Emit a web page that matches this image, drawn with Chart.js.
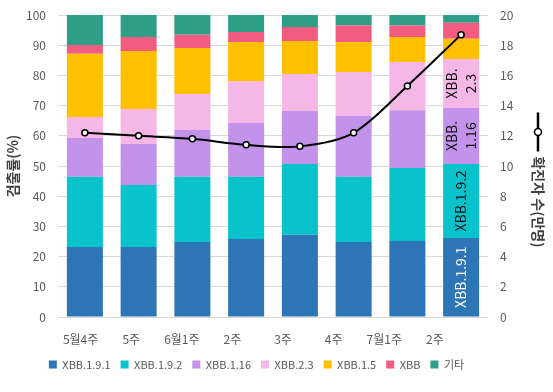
<!DOCTYPE html>
<html><head><meta charset="utf-8">
<script src="https://cdn.jsdelivr.net/npm/chart.js@4"></script>
<style>html,body{margin:0;padding:0;background:#fff}</style>
</head><body>
<canvas id="c" width="553" height="392" style="width:553px;height:392px"></canvas>
<script>
const categories = ['5월4주','5주','6월1주','2주','3주','4주','7월1주','2주'];
const seriesNames = ['XBB.1.9.1','XBB.1.9.2','XBB.1.16','XBB.2.3','XBB.1.5','XBB','기타'];
const xbb1_9_1 = [23.2,23.2,24.8,25.8,27.2,24.8,25.2,26.2];
const xbb1_9_2 = [23.2,20.5,21.6,20.6,23.5,21.6,24.1,24.5];
const xbb1_16  = [12.9,13.6,15.5,17.8,17.5,20.2,19.2,18.5];
const xbb2_3   = [6.9,11.6,11.9,13.9,12.3,14.5,15.9,16.2];
const xbb1_5   = [21.0,19.2,15.3,13.0,10.9,10.0,8.3,6.7];
const xbb      = [2.9,4.6,4.4,3.3,4.6,5.4,3.8,5.3];
const others   = [9.9,7.3,6.5,5.6,4.0,3.5,3.5,2.6];
const confirmed = [12.2,12.0,11.8,11.4,11.3,12.2,15.3,18.7];
const lineName = '확진자 수(만명)';
const leftTitle = '검출률(%)';
const lastBarLabels = [['XBB.1.9.1'],['XBB.1.9.2'],['XBB.','1.16'],['XBB.','2.3']];
const lastBarLabelColors = ['#ffffff','#111111','#111111','#111111'];

const colors = ['#2E75B6','#08C3CC','#C393EC','#F4B7E6','#FFC000','#F25C80','#2E9E86'];
const seriesData = [xbb1_9_1,xbb1_9_2,xbb1_16,xbb2_3,xbb1_5,xbb,others];
const FONT = '"Noto Sans CJK KR", "Noto Sans", sans-serif';
const GRAY = '#595959';

const datasets = [{
  type:'line', label: lineName, data: confirmed, yAxisID:'y1', xAxisID:'x', order:0,
  borderColor:'#000', borderWidth:2, tension:0.3,
  pointRadius:3, pointBackgroundColor:'#fff', pointBorderColor:'#000', pointBorderWidth:1.5
}];
seriesNames.forEach((n,i)=>datasets.push({
  type:'bar', label:n, data:seriesData[i], backgroundColor:colors[i], yAxisID:'y', xAxisID:'x',
  order:1, barPercentage:0.67, categoryPercentage:1, borderWidth:0
}));

const innerLabelPlugin = {
  id:'innerLabels',
  afterDatasetsDraw(chart){
    const ctx = chart.ctx;
    const last = categories.length-1;
    lastBarLabels.forEach((lines,k)=>{
      const meta = chart.getDatasetMeta(k+1);
      const el = meta.data[last];
      const cx = el.x, cy = (el.y + el.base)/2;
      ctx.save();
      ctx.translate(cx, cy);
      ctx.rotate(-Math.PI/2);
      ctx.font = '14px ' + FONT;
      ctx.fillStyle = lastBarLabelColors[k];
      ctx.textAlign = 'center';
      ctx.textBaseline = 'middle';
      const lh = 19;
      lines.forEach((t,j)=>{
        ctx.fillText(t, 0, (j-(lines.length-1)/2)*lh);
      });
      ctx.restore();
    });
  }
};

const rightTitlePlugin = {
  id:'rightTitle',
  afterDraw(chart){
    const ctx = chart.ctx;
    const ca = chart.chartArea;
    const cx = 538;
    const mid = (ca.top+ca.bottom)/2;
    ctx.save();
    ctx.font = 'bold 14px ' + FONT;
    const tw = ctx.measureText(lineName).width;
    const symLen = 39, gap = 5;
    const total = symLen + gap + tw;
    const start = mid + 14 - total/2;
    ctx.translate(cx, start);
    ctx.rotate(Math.PI/2);
    ctx.strokeStyle = '#000'; ctx.lineWidth = 2.5;
    ctx.beginPath(); ctx.moveTo(0,0); ctx.lineTo(symLen,0); ctx.stroke();
    ctx.beginPath(); ctx.arc(symLen/2,0,3.5,0,Math.PI*2);
    ctx.fillStyle='#fff'; ctx.fill(); ctx.lineWidth=1.5; ctx.stroke();
    ctx.fillStyle = '#404040';
    ctx.textAlign='left'; ctx.textBaseline='middle';
    ctx.fillText(lineName, symLen+gap, 0);
    ctx.restore();
  }
};

function fixV(width){
  return function(s){ s.width = width; s.paddingTop = 0; s.paddingBottom = 0; };
}

new Chart(document.getElementById('c'), {
  data:{ labels: categories, datasets },
  options:{
    responsive:false, animation:false, devicePixelRatio:1,
    layout:{ padding:{ top:15, left:0, right:40, bottom:12 } },
    scales:{
      x:{ display:false, stacked:true, offset:true },
      x2:{
        type:'linear', position:'bottom', min:-0.447, max:8.05,
        grid:{ display:false, drawTicks:false }, border:{ display:false },
        afterBuildTicks(s){ s.ticks = categories.map((_,i)=>({value:i})); },
        afterFit(s){ s.paddingLeft = 0; s.paddingRight = 0; s.height = 32; },
        ticks:{ padding:15, color:GRAY, font:{ family:FONT, size:12 }, maxRotation:0, autoSkip:false,
          callback:(v)=>categories[v] }
      },
      y:{
        stacked:true, min:0, max:100, position:'left',
        afterFit: fixV(58),
        ticks:{ stepSize:10, padding:12, color:GRAY, font:{ family:FONT, size:12 } },
        grid:{ color:'#D9D9D9', drawTicks:false, lineWidth:1 },
        border:{ display:false },
        title:{ display:true, text:leftTitle, color:'#404040', font:{ family:FONT, size:14, weight:'bold' }, padding:{top:4,bottom:0} }
      },
      y1:{
        min:0, max:20, position:'right', stacked:false,
        afterFit: fixV(25),
        ticks:{ stepSize:2, padding:12, color:GRAY, font:{ family:FONT, size:12 } },
        grid:{ display:false, drawTicks:false },
        border:{ display:false }
      }
    },
    plugins:{
      legend:{
        position:'bottom',
        labels:{
          boxWidth:8, boxHeight:8, padding:10, color:GRAY, font:{ family:FONT, size:11 },
          filter:(item)=>item.text !== lineName
        }
      },
      tooltip:{ enabled:false }
    }
  },
  plugins:[innerLabelPlugin, rightTitlePlugin]
});
</script>
</body></html>
